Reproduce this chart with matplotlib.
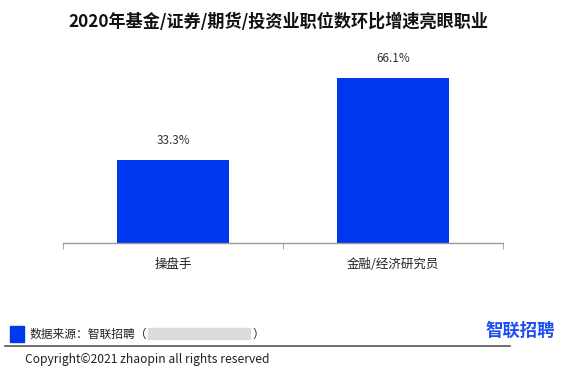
import matplotlib
matplotlib.use("Agg")
import matplotlib.pyplot as plt
from matplotlib.patches import Rectangle

plt.rcParams['font.family'] = ['Noto Sans CJK SC', 'DejaVu Sans']

# --- データ ---
categories = ["操盘手", "金融/经济研究员"]
values = [33.3, 66.1]
value_labels = ["33.3%", "66.1%"]

title = "2020年基金/证券/期货/投资业职位数环比增速亮眼职业"
source_text = "数据来源：智联招聘（"
logo_text = "智联招聘"
copyright_text = "Copyright©2021 zhaopin all rights reserved"

bar_color = "#0038ED"

W, H = 569, 378
fig = plt.figure(figsize=(W / 100, H / 100), dpi=100)

# --- 棒グラフ ---
ax = fig.add_axes([63 / W, 1 - 243 / H, 440 / W, 200 / H])
x = list(range(len(categories)))
ax.bar(x, values, width=0.51, color=bar_color)
for xi, v, lab in zip(x, values, value_labels):
    ax.text(xi, v + 5, lab, ha='center', va='bottom', fontsize=8.5, color='#333333')

ax.set_xlim(-0.5, len(categories) - 0.5)
ax.set_ylim(0, 80)
ax.set_yticks([])
for s in ['top', 'right', 'left']:
    ax.spines[s].set_visible(False)
ax.spines['bottom'].set_color('#999999')
ax.spines['bottom'].set_linewidth(1.0)

ax.set_xticks(x)
ax.set_xticklabels(categories, fontsize=9, color='#222222')
ax.tick_params(axis='x', which='major', length=0, pad=11)
ax.set_xticks([i - 0.5 for i in range(len(categories) + 1)], minor=True)
ax.tick_params(axis='x', which='minor', length=4, color='#999999', direction='out')

# --- タイトル ---
fig.text(278 / W, 1 - 22 / H, title, ha='center', va='center',
         fontsize=12.3, fontweight='bold', color='#111111')

# --- フッター ---
fig.patches.append(Rectangle((10 / W, 1 - 342 / H), 14 / W, 16 / H,
                             transform=fig.transFigure, color=bar_color))
fig.text(30 / W, 1 - 334 / H, source_text, ha='left', va='center',
         fontsize=8.5, color='#222222')
fig.patches.append(Rectangle((148 / W, 1 - 339 / H), 102 / W, 11 / H,
                             transform=fig.transFigure, color='#dcdcdc'))
fig.text(252 / W, 1 - 334 / H, "）", ha='left', va='center',
         fontsize=8.5, color='#222222')
fig.text(555 / W, 1 - 331 / H, logo_text, ha='right', va='center',
         fontsize=12.5, fontweight='bold', color='#1f4ef0')
fig.add_artist(plt.Line2D([5 / W, 510 / W], [1 - 346 / H, 1 - 346 / H],
                          transform=fig.transFigure, color='#555555', lw=1.2))
fig.text(25 / W, 1 - 360 / H, copyright_text, ha='left', va='center',
         fontsize=8.7, color='#222222')

fig.savefig("out.png", dpi=100)
